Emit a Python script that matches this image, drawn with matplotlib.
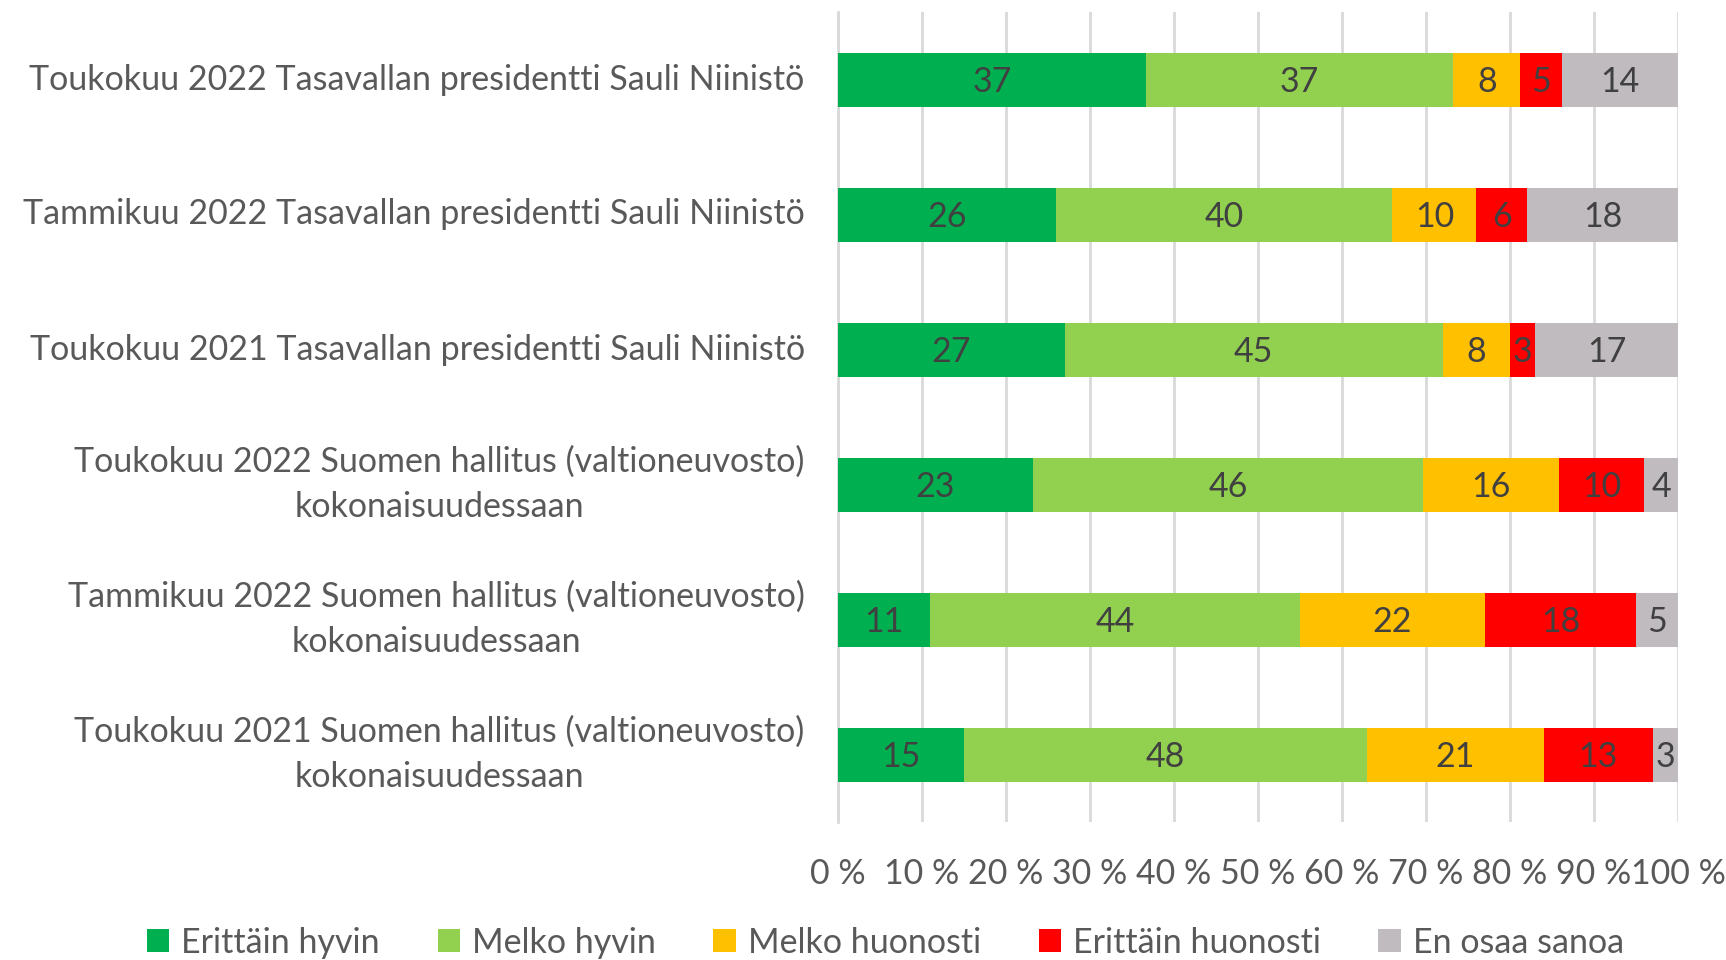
import numpy as np
import matplotlib
matplotlib.use("Agg")
import matplotlib.pyplot as plt

plt.rcParams['font.family'] = ['Lato', 'DejaVu Sans']

categories = [
    "Toukokuu 2022 Tasavallan presidentti Sauli Niinistö",
    "Tammikuu 2022 Tasavallan presidentti Sauli Niinistö",
    "Toukokuu 2021 Tasavallan presidentti Sauli Niinistö",
    "Toukokuu 2022 Suomen hallitus (valtioneuvosto)\nkokonaisuudessaan",
    "Tammikuu 2022 Suomen hallitus (valtioneuvosto)\nkokonaisuudessaan",
    "Toukokuu 2021 Suomen hallitus (valtioneuvosto)\nkokonaisuudessaan",
]
series = ["Erittäin hyvin", "Melko hyvin", "Melko huonosti", "Erittäin huonosti", "En osaa sanoa"]
erittain_hyvin = [37, 26, 27, 23, 11, 15]
melko_hyvin = [37, 40, 45, 46, 44, 48]
melko_huonosti = [8, 10, 8, 16, 22, 21]
erittain_huonosti = [5, 6, 3, 10, 18, 13]
en_osaa = [14, 18, 17, 4, 5, 3]
colors = ["#00B050", "#92D050", "#FFC000", "#FF0000", "#BFBBBF"]

data = np.array([erittain_hyvin, melko_hyvin, melko_huonosti, erittain_huonosti, en_osaa], dtype=float)
shares = data / data.sum(axis=0) * 100  # 100 % stacked

fs = 24.5
fig = plt.figure(figsize=(17.26, 9.6), dpi=100)
ax = fig.add_axes([0.4855, 0.14375, 0.4867, 0.84375])

y = np.arange(len(categories))
left = np.zeros(len(categories))
for k in range(len(series)):
    bars = ax.barh(y, shares[k], left=left, height=0.4, color=colors[k], label=series[k], zorder=3)
    for i, b in enumerate(bars):
        ax.text(left[i] + shares[k][i] / 2, y[i] + 0.015, f"{int(data[k][i])}", ha='center', va='center',
                fontsize=fs, color='#404040', zorder=4)
    left += shares[k]

ax.set_xlim(0, 100)
ax.set_ylim(len(categories) - 0.5, -0.5)
ax.set_xticks(np.arange(0, 101, 10))
ax.set_xticklabels([f"{t} %" for t in range(0, 101, 10)])
ax.set_yticks(y)
ax.set_yticklabels(categories)
for lbl in ax.get_yticklabels():
    lbl.set_multialignment('center')
    lbl.set_linespacing(1.5)
    lbl.set_va('center')
ax.tick_params(axis='both', length=0, labelsize=fs, labelcolor='#595959')
ax.tick_params(axis='x', pad=26)
ax.tick_params(axis='y', pad=24)
ax.grid(axis='x', color='#D9D9D9', linewidth=2, zorder=0)
for s in ['top', 'right', 'bottom']:
    ax.spines[s].set_visible(False)
ax.spines['left'].set_color('#D9D9D9')
ax.spines['left'].set_linewidth(2)

handles, labels = ax.get_legend_handles_labels()
fig.legend(handles, labels, loc='center', bbox_to_anchor=(0.513, 0.018), ncol=5, frameon=False,
           fontsize=fs, labelcolor='#595959', handlelength=0.65, handleheight=0.65,
           columnspacing=1.7, handletextpad=0.35)

fig.savefig("out.png", dpi=100)
